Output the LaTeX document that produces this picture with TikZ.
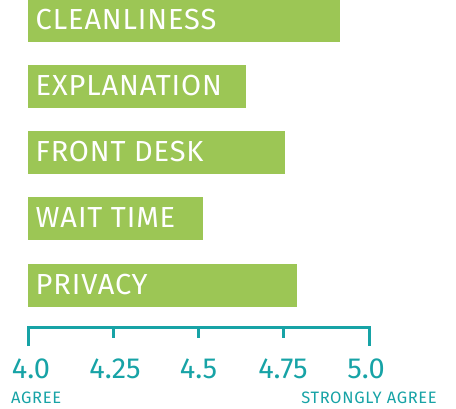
\documentclass[tikz,border=0pt]{standalone}
\usepackage{fontspec}
\setmainfont{Fira Sans}
\newfontfamily\barfont{Fira Sans}[LetterSpace=3]
\newfontfamily\endfont{Fira Sans}[LetterSpace=4]
\definecolor{BarClr}{HTML}{9CC655}
\definecolor{AxisClr}{HTML}{17A3A6}

\begin{document}
\begin{tikzpicture}[x=1pt,y=-1pt,
  barlabel/.style={anchor=base west,inner sep=0pt,text=white,font=\barfont\fontsize{29}{29}\selectfont},
  ticklabel/.style={anchor=base,inner sep=0pt,text=AxisClr,font=\fontsize{29}{29}\selectfont},
  endlabel/.style={inner sep=0pt,text=AxisClr,font=\endfont\fontsize{16.5}{17}\selectfont}]
\useasboundingbox (0,0) rectangle (456,408);

% bars
\fill[BarClr] (27.5,-1) rectangle (340,41.5);
\fill[BarClr] (27.5,65) rectangle (246,107.5);
\fill[BarClr] (27.5,131) rectangle (285,173.5);
\fill[BarClr] (27.5,197) rectangle (203,239.5);
\fill[BarClr] (27.5,264) rectangle (297,306.5);

\node[barlabel] (clean) at (35.5,29.5) {CLEANLINESS};
\node[barlabel] (expl) at (35.5,95.5) {EXPLANATION};
\node[barlabel] (desk) at (35.5,161.5) {FRONT DESK};
\node[barlabel] (wait) at (35.5,227.5) {WAIT TIME};
\node[barlabel] (priv) at (35.5,294.5) {PRIVACY};

% axis
\draw[AxisClr,line width=3pt] (28,346) -- (28,327) -- (369,327) -- (369,346);
\draw[AxisClr,line width=3pt] (113.25,327) -- (113.25,338);
\draw[AxisClr,line width=3pt] (198.5,327) -- (198.5,338);
\draw[AxisClr,line width=3pt] (283.75,327) -- (283.75,338);

\node[ticklabel] (t0) at (31,378) {4.0};
\node[ticklabel] (t1) at (115,378) {4.25};
\node[ticklabel] (t2) at (198.5,378) {4.5};
\node[ticklabel] (t3) at (283,378) {4.75};
\node[ticklabel] (t4) at (366,378) {5.0};

\node[endlabel,anchor=base west] (agree) at (11,403) {AGREE};
\node[endlabel,anchor=base east] (strong) at (437,403) {STRONGLY AGREE};
\end{tikzpicture}
\end{document}
